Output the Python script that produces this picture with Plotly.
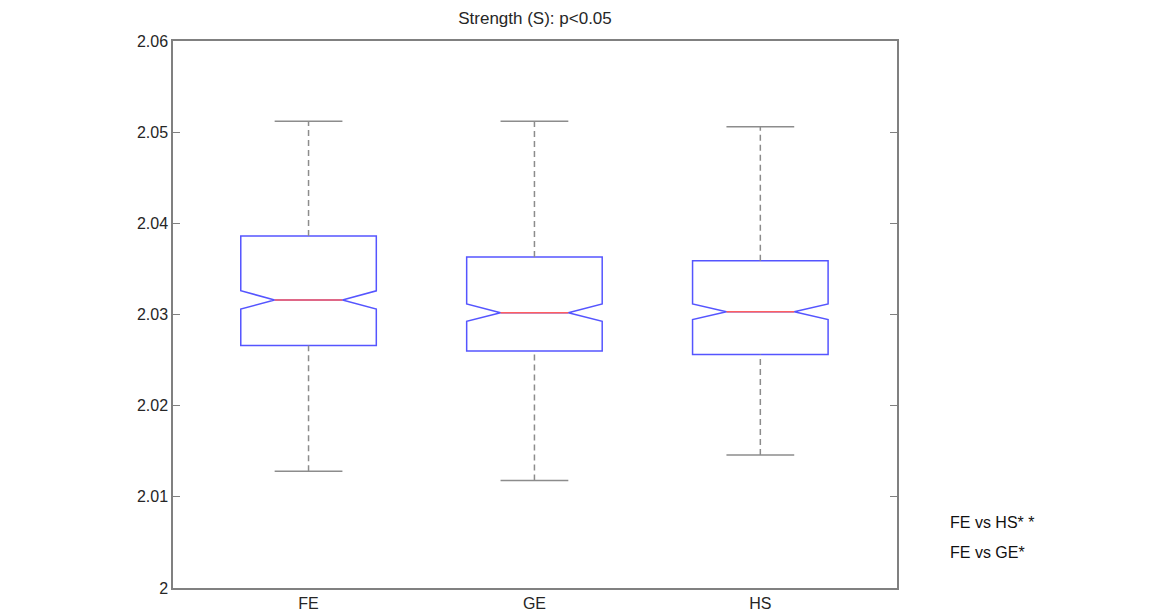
import plotly.graph_objects as go

categories = ["FE", "GE", "HS"]
upper_whisker = [2.0512, 2.0512, 2.0506]
q3_vals = [2.0386, 2.0363, 2.0359]
median_vals = [2.0316, 2.0302, 2.0303]
q1_vals = [2.0266, 2.0260, 2.0256]
lower_whisker = [2.0128, 2.0118, 2.0146]
notch_half = [0.00100, 0.00095, 0.00085]

y_tick_vals = [2.00, 2.01, 2.02, 2.03, 2.04, 2.05, 2.06]
y_tick_text = ["2", "2.01", "2.02", "2.03", "2.04", "2.05", "2.06"]

title_text = "Strength (S): p<0.05"
notes = ["FE vs HS* *", "FE vs GE*"]

positions = [i + 1 for i in range(len(categories))]
BOX_W = 0.6
CAP_HALF = 0.15
NOTCH_W = 0.25
MED_HALF = BOX_W / 2 * (1 - 2 * NOTCH_W)

BLUE = "rgb(85,85,255)"
RED = "rgb(255,95,95)"
GRAY = "rgb(140,140,140)"
AXC = "rgb(128,128,128)"
TXT = "#262626"

# page body has an 8px default margin; compensate so the plot area lands where it should
OFF = 8
L, T, PW, PH = 173 - OFF, 41 - OFF, 724, 547
W, H = 1151, 612

fig = go.Figure()

fig.add_trace(go.Box(
    x=positions, q1=q1_vals, median=median_vals, q3=q3_vals,
    lowerfence=q1_vals, upperfence=q3_vals, notchspan=notch_half,
    notched=True, notchwidth=NOTCH_W, width=BOX_W, whiskerwidth=0,
    orientation="v", boxpoints=False,
    line=dict(color=BLUE, width=1.5), fillcolor="rgba(0,0,0,0)",
    showlegend=False, hoverinfo="skip",
))

for p, uw, q3, md, q1, lw in zip(positions, upper_whisker, q3_vals, median_vals, q1_vals, lower_whisker):
    fig.add_trace(go.Scatter(x=[p, p], y=[q3, uw], mode="lines",
                             line=dict(color=GRAY, width=1.5, dash="6px,4px"),
                             showlegend=False, hoverinfo="skip"))
    fig.add_trace(go.Scatter(x=[p, p], y=[lw, q1], mode="lines",
                             line=dict(color=GRAY, width=1.5, dash="6px,4px"),
                             showlegend=False, hoverinfo="skip"))
    for v in (uw, lw):
        fig.add_trace(go.Scatter(x=[p - CAP_HALF, p + CAP_HALF], y=[v, v], mode="lines",
                                 line=dict(color=GRAY, width=1.5),
                                 showlegend=False, hoverinfo="skip"))
    fig.add_trace(go.Scatter(x=[p - MED_HALF, p + MED_HALF], y=[md, md], mode="lines",
                             line=dict(color=RED, width=1.5),
                             showlegend=False, hoverinfo="skip"))

fig.update_layout(
    width=W, height=H,
    margin=dict(l=L, r=W - L - PW, t=T, b=H - T - PH, autoexpand=False),
    paper_bgcolor="white", plot_bgcolor="white",
    font=dict(family="Liberation Sans, Arial, sans-serif", size=16, color=TXT),
    title=dict(text=title_text, x=0.5, xref="paper", xanchor="center",
               y=1 - (18 - OFF) / H, yref="container", yanchor="middle",
               font=dict(size=17, color=TXT)),
    xaxis=dict(range=[0.4, 3.605], tickvals=positions, ticktext=categories,
               ticks="", showline=True, linecolor=AXC, linewidth=1.5, mirror=True,
               showgrid=False, zeroline=False, tickfont=dict(size=16), automargin=False),
    yaxis=dict(range=[2.0, 2.06], tickvals=y_tick_vals, ticktext=y_tick_text,
               ticks="inside", ticklen=7, tickcolor=AXC, tickwidth=1.2,
               showline=True, linecolor=AXC, linewidth=1.5, mirror="ticks",
               showgrid=False, zeroline=False, tickfont=dict(size=16), automargin=False),
)

for i, t in enumerate(notes):
    fig.add_annotation(text=t, xref="paper", yref="paper",
                       x=(948 - 173) / PW, y=(588 - 522 - 30 * i) / PH,
                       xanchor="left", yanchor="middle", showarrow=False,
                       font=dict(family="Liberation Sans, Arial, sans-serif",
                                 size=16, color="#111"))

fig.write_html("out.html")
